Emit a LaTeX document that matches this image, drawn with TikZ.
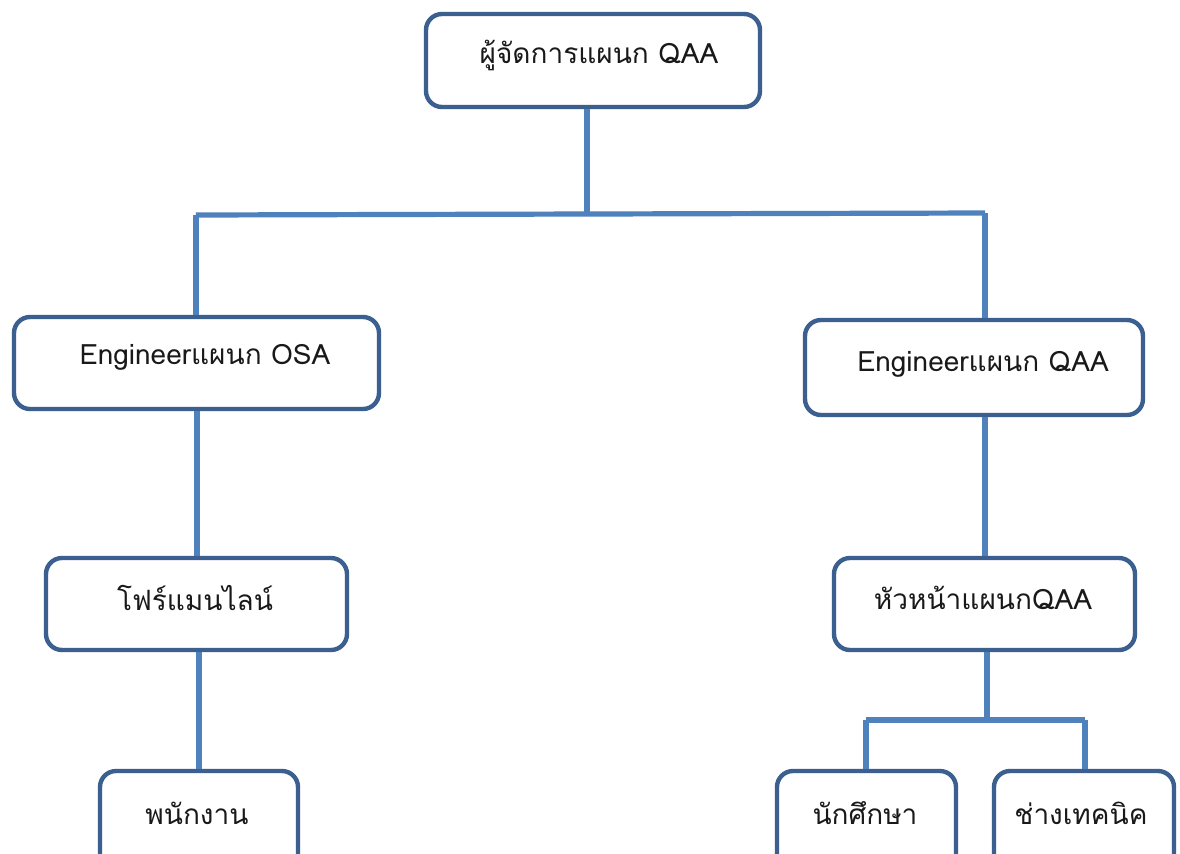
\documentclass[tikz,border=0pt]{standalone}
\usepackage{fontspec}
\setmainfont{Loma}[Script=Thai]
\definecolor{boxline}{HTML}{3B5F8E}
\definecolor{connline}{HTML}{4F81BD}
\begin{document}
\begin{tikzpicture}[x=0.5pt,y=-0.5pt,
  box/.style={draw=boxline,line width=2.2pt,rounded corners=8pt,fill=white,inner sep=0pt},
  conn/.style={draw=connline,line width=2.6pt},
  lbl/.style={font=\fontsize{14}{16}\selectfont,text=black!90,inner sep=0pt}]
\useasboundingbox[fill=white] (0,0) rectangle (1180,853);
\begin{scope}
\clip (0,0) rectangle (1180,853);
% junction coordinates
\coordinate (j1) at (587,214);
\coordinate (jl) at (196,215);
\coordinate (jr) at (985,213);
\coordinate (j2) at (987,720);
\coordinate (j2l) at (866,720);
\coordinate (j2r) at (1085,720);
% boxes
\node[box,minimum width=167pt,minimum height=46.5pt] (top) at (593,60.5) {};
\node[box,minimum width=182.5pt,minimum height=46pt] (eosa) at (196.5,363) {};
\node[box,minimum width=169pt,minimum height=47.5pt] (eqaa) at (974,367.5) {};
\node[box,minimum width=150.5pt,minimum height=46pt] (fore) at (196.5,604) {};
\node[box,minimum width=150.5pt,minimum height=46pt] (head) at (984.5,604) {};
\node[box,minimum width=99pt,minimum height=52pt] (emp) at (199,823) {};
\node[box,minimum width=89.5pt,minimum height=52pt] (stu) at (866.5,823) {};
\node[box,minimum width=90pt,minimum height=52pt] (tech) at (1084,823) {};
% connectors
\draw[conn] (j1 |- top.south) -- (j1);
\draw[conn] (jl) -- (jr);
\draw[conn] (jl) -- (jl |- eosa.north);
\draw[conn] (jr) -- (jr |- eqaa.north);
\draw[conn] (197,411) coordinate (a1) -- (a1 |- fore.north);
\draw[conn] (985,417) coordinate (a2) -- (a2 |- head.north);
\draw[conn] (199,652) coordinate (a3) -- (a3 |- emp.north);
\draw[conn] (j2 |- head.south) -- (j2);
\draw[conn] (j2l) -- (j2r);
\draw[conn] (j2l) -- (j2l |- stu.north);
\draw[conn] (j2r) -- (j2r |- tech.north);
% labels
\node[lbl] (ttop) at (599,55) {ผู้จัดการแผนก QAA};
\node[lbl] (teosa) at (205,357) {Engineerแผนก OSA};
\node[lbl] (teqaa) at (983,364) {Engineerแผนก QAA};
\node[lbl] (tfore) at (195,598) {โฟร์แมนไลน์};
\node[lbl] (thead) at (983,598) {หัวหน้าแผนกQAA};
\node[lbl] (temp) at (197,813) {พนักงาน};
\node[lbl] (tstu) at (865,813) {นักศึกษา};
\node[lbl] (ttech) at (1081,813) {ช่างเทคนิค};
\end{scope}
\end{tikzpicture}
\end{document}
